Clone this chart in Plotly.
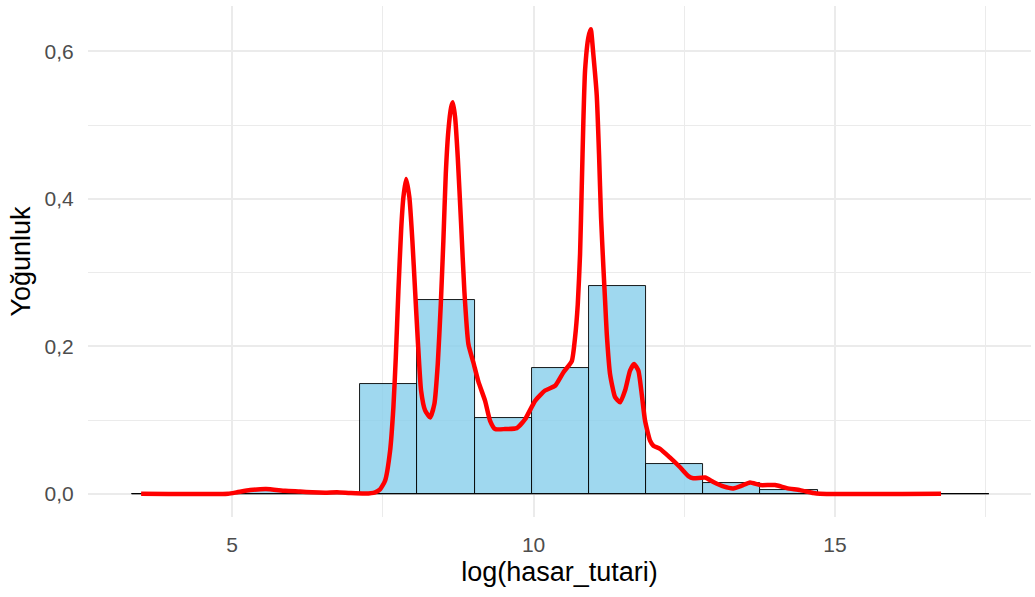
import plotly.graph_objects as go

# Histogram of log(hasar_tutari): 15 bins, density scale
bin_edges = [3.333, 4.281, 5.229, 6.177, 7.125, 8.073, 9.021, 9.969,
             10.917, 11.865, 12.813, 13.761, 14.709, 15.657, 16.605, 17.553]
bin_density = [0.0003, 0.0005, 0.004, 0.0015, 0.149, 0.263, 0.103, 0.171,
               0.282, 0.041, 0.015, 0.0055, 0.0003, 0.0, 0.0003]

# Kernel density estimate of the same variable
kde_x = [3.491, 4.934, 5.083, 5.299, 5.564, 5.879, 6.128, 6.327, 6.542, 6.741,
         6.957, 7.206, 7.371, 7.454, 7.537, 7.620, 7.675, 7.715, 7.758, 7.803,
         7.841, 7.886, 7.940, 7.990, 8.035, 8.080, 8.134, 8.201, 8.284, 8.355,
         8.411, 8.461, 8.504, 8.544, 8.587, 8.632, 8.660, 8.698, 8.743, 8.798,
         8.852, 8.919, 9.002, 9.085, 9.196, 9.279, 9.362, 9.527, 9.721, 9.859,
         10.025, 10.191, 10.357, 10.494, 10.634, 10.688, 10.733, 10.771, 10.799,
         10.826, 10.854, 10.909, 10.949, 10.992, 11.048, 11.086, 11.119, 11.158,
         11.186, 11.214, 11.269, 11.352, 11.434, 11.517, 11.600, 11.667, 11.738,
         11.794, 11.849, 11.932, 11.987, 12.098, 12.264, 12.430, 12.567, 12.650,
         12.844, 12.982, 13.148, 13.313, 13.453, 13.590, 13.756, 14.005, 14.199,
         14.420, 14.640, 14.751, 16.758]
kde_y = [0.0, 0.0, 0.002, 0.005, 0.0065, 0.004, 0.003, 0.002, 0.0015, 0.002,
         0.001, 0.0003, 0.002, 0.006, 0.0176, 0.058, 0.117, 0.185, 0.275, 0.357,
         0.402, 0.427, 0.402, 0.343, 0.275, 0.208, 0.140, 0.113, 0.1035, 0.122,
         0.176, 0.257, 0.343, 0.434, 0.4925, 0.524, 0.531, 0.511, 0.456, 0.366,
         0.275, 0.203, 0.178, 0.152, 0.126, 0.099, 0.0878, 0.0878, 0.089, 0.101,
         0.126, 0.140, 0.1465, 0.1646, 0.180, 0.212, 0.257, 0.325, 0.416,
         0.506, 0.574, 0.619, 0.630, 0.595, 0.54, 0.46, 0.375, 0.307,
         0.262, 0.217, 0.162, 0.131, 0.124, 0.140, 0.167, 0.176, 0.167,
         0.135, 0.099, 0.072, 0.065, 0.061, 0.049, 0.036, 0.024, 0.021,
         0.022, 0.016, 0.0099, 0.0072, 0.011, 0.0153, 0.0118, 0.0118, 0.0077,
         0.005, 0.001, 0.0, 0.0]

x_ticks = [5, 10, 15]
x_minor = [7.5, 12.5, 17.5]
y_ticks = [0.0, 0.2, 0.4, 0.6]
y_minor = [0.1, 0.3, 0.5]
y_tick_labels = ["0,0", "0,2", "0,4", "0,6"]

bin_centers = [(a + b) / 2 for a, b in zip(bin_edges[:-1], bin_edges[1:])]
bin_widths = [b - a for a, b in zip(bin_edges[:-1], bin_edges[1:])]

fig = go.Figure()

fig.add_trace(go.Bar(
    x=bin_centers, y=bin_density, width=bin_widths,
    marker=dict(color="rgba(135,206,235,0.8)",
                line=dict(color="black", width=0.9)),
    hoverinfo="skip", showlegend=False,
))

# outline of the empty bins along the base
fig.add_trace(go.Scatter(
    x=[bin_edges[0], bin_edges[-1]], y=[0, 0], mode="lines",
    line=dict(color="black", width=1), hoverinfo="skip", showlegend=False,
))

fig.add_trace(go.Scatter(
    x=kde_x, y=kde_y, mode="lines",
    line=dict(color="#FF0000", width=4.5, shape="spline", smoothing=0.5),
    hoverinfo="skip", showlegend=False,
))

x_range = [2.61, 18.25]
y_max = max(max(kde_y), max(bin_density))
y_range = [-0.05 * y_max, 1.05 * y_max]

grid = "#EBEBEB"
fig.update_layout(
    width=1035, height=597,
    margin=dict(l=88, r=4, t=6, b=80),
    paper_bgcolor="white", plot_bgcolor="white",
    font=dict(family="Liberation Sans, Arial, sans-serif"),
    bargap=0,
    xaxis=dict(
        range=x_range, tickvals=x_ticks, ticktext=[str(t) for t in x_ticks],
        showgrid=True, gridcolor=grid, gridwidth=2, zeroline=False,
        showline=False, ticks="outside", ticklen=9, tickcolor="rgba(0,0,0,0)",
        tickfont=dict(size=21, color="#4D4D4D"),
        title=dict(text="log(hasar_tutari)", font=dict(size=27, color="black"),
                   standoff=6),
        minor=dict(tickvals=x_minor, showgrid=True,
                   gridcolor=grid, gridwidth=1.2, ticks=""),
    ),
    yaxis=dict(
        range=y_range, tickvals=y_ticks, ticktext=y_tick_labels,
        showgrid=True, gridcolor=grid, gridwidth=2, zeroline=False,
        showline=False, ticks="outside", ticklen=9, tickcolor="rgba(0,0,0,0)",
        tickfont=dict(size=21, color="#4D4D4D"),
        title=dict(text="Yoğunluk", font=dict(size=27, color="black"),
                   standoff=6),
        minor=dict(tickvals=y_minor, showgrid=True,
                   gridcolor=grid, gridwidth=1.2, ticks=""),
    ),
)

fig.write_html("out.html")
